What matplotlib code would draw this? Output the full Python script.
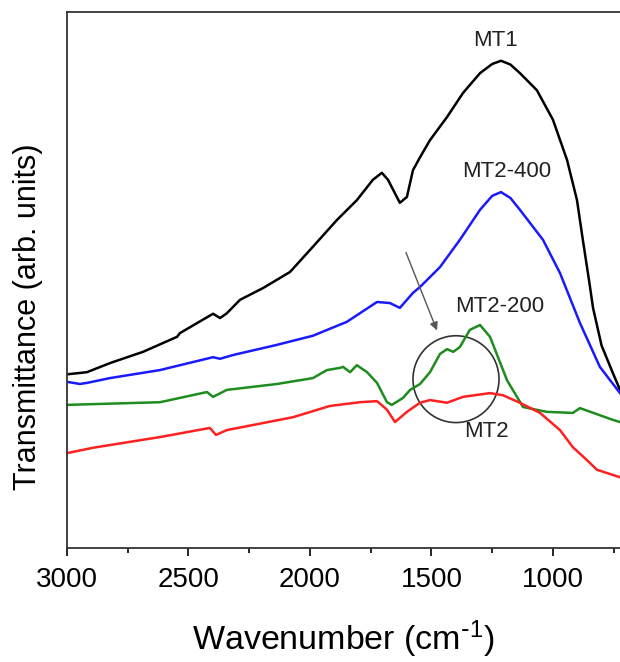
import numpy as np
import matplotlib.pyplot as plt
from matplotlib.patches import Ellipse

plt.rcParams['font.family'] = ['Liberation Sans', 'DejaVu Sans']
plt.rcParams['mathtext.default'] = 'regular'

# FTIR spectra (wavenumber in cm^-1, transmittance in arb. units)
w_mt1 = [3000, 2918, 2823, 2687, 2547, 2535, 2399, 2370, 2342, 2288, 2193, 2082,
         1988, 1889, 1807, 1741, 1704, 1679, 1630, 1601, 1576, 1547, 1506, 1436,
         1370, 1300, 1250, 1214, 1175, 1136, 1066, 1000, 942, 901, 877, 850, 835,
         800, 753, 724]
t_mt1 = [32.4, 32.8, 34.5, 36.6, 39.4, 40.1, 43.7, 42.9, 43.8, 46.3, 48.5, 51.5,
         56.2, 61.2, 64.9, 68.7, 70.0, 68.7, 64.4, 65.5, 70.5, 72.9, 76.1, 80.4,
         84.9, 88.6, 90.3, 90.9, 90.2, 88.6, 85.4, 79.9, 72.4, 64.9, 57.5, 49.5, 44.8,
         37.8, 32.6, 29.5]

w_mt2_400 = [3000, 2947, 2918, 2823, 2617, 2399, 2370, 2317, 2136, 1988, 1848, 1724,
             1671, 1630, 1576, 1547, 1465, 1383, 1300, 1250, 1214, 1175, 1136, 1041,
             971, 889, 807, 724]
t_mt2_400 = [31.0, 30.6, 30.8, 31.7, 33.2, 35.6, 35.3, 36.0, 37.9, 39.6, 42.2, 45.9,
             45.7, 44.8, 47.6, 48.7, 52.4, 57.5, 63.1, 65.7, 66.4, 65.3, 63.1, 57.5,
             51.3, 42.0, 33.8, 28.9]

w_mt2_200 = [3000, 2617, 2424, 2399, 2342, 2136, 2041, 1988, 1930, 1877, 1864, 1835,
             1807, 1765, 1724, 1683, 1663, 1617, 1588, 1547, 1506, 1465, 1436, 1410,
             1383, 1342, 1300, 1259, 1189, 1123, 1025, 918, 889, 753, 724]
t_mt2_200 = [26.7, 27.2, 29.1, 28.2, 29.5, 30.6, 31.3, 31.7, 33.2, 33.6, 33.8, 32.8,
             34.1, 32.8, 30.8, 27.2, 26.7, 28.0, 29.5, 30.6, 32.8, 36.2, 37.1, 36.6,
             37.5, 40.7, 41.6, 39.4, 31.3, 26.3, 25.4, 25.2, 26.1, 23.9, 23.5]

w_mt2 = [3000, 2893, 2617, 2412, 2387, 2342, 2070, 1918, 1794, 1724, 1683, 1650,
         1601, 1547, 1506, 1436, 1370, 1259, 1206, 1136, 1053, 971, 918, 860, 819, 724]
t_mt2 = [17.7, 18.7, 20.7, 22.4, 21.1, 22.0, 24.4, 26.5, 27.2, 27.4, 25.8, 23.5,
         25.4, 27.1, 27.6, 27.1, 28.2, 28.9, 28.5, 27.1, 25.2, 22.0, 18.8, 16.4, 14.6, 13.2]

fig = plt.figure(figsize=(6.2, 6.62), dpi=100)
ax = fig.add_axes([67 / 620, 1 - 548 / 662, 1 - 67 / 620, (548 - 12) / 662])

ax.plot(w_mt1, t_mt1, color='black', lw=1.8)
ax.plot(w_mt2_400, t_mt2_400, color='#1a1aff', lw=1.8)
ax.plot(w_mt2_200, t_mt2_200, color='#1e8c1e', lw=1.8)
ax.plot(w_mt2, t_mt2, color='#ff2020', lw=1.8)

lbl = dict(fontsize=16, ha='center', va='center', color='#222222')
ax.text(1235, 94.6, 'MT1', **lbl)
ax.text(1189, 70.3, 'MT2-400', **lbl)
ax.text(1218, 45.0, 'MT2-200', **lbl)
ax.text(1272, 21.8, 'MT2', **lbl)

# circle around the 1500-1300 band region and arrow pointing to it
ax.add_patch(Ellipse((1399, 31.5), 354, 16.2, fill=False, ec='#333333', lw=1.2))
ax.annotate('', xy=(1473, 40.1), xytext=(1609, 55.6),
            arrowprops=dict(arrowstyle='-|>', color='#555555', lw=1.0, mutation_scale=12))

ax.set_xlim(3000, 724)
ax.set_ylim(0, 100)
ax.set_xticks([3000, 2500, 2000, 1500, 1000])
ax.set_xticks([2750, 2250, 1750, 1250, 750], minor=True)
ax.set_yticks([])
ax.tick_params(axis='x', which='major', length=6, width=1.2, labelsize=20, pad=8)
ax.tick_params(axis='x', which='minor', length=3.5, width=1.2)
ax.spines['right'].set_visible(False)
for s in ['left', 'top', 'bottom']:
    ax.spines[s].set_linewidth(1.3)
    ax.spines[s].set_color('#333333')

ax.set_xlabel(r'Wavenumber (cm$^{\text{-}1}$)', fontsize=24.5, labelpad=18)
ax.set_ylabel('Transmittance (arb. units)', fontsize=22)
ax.yaxis.set_label_coords(-0.043, 0.431)

fig.savefig('out.png', dpi=100)
